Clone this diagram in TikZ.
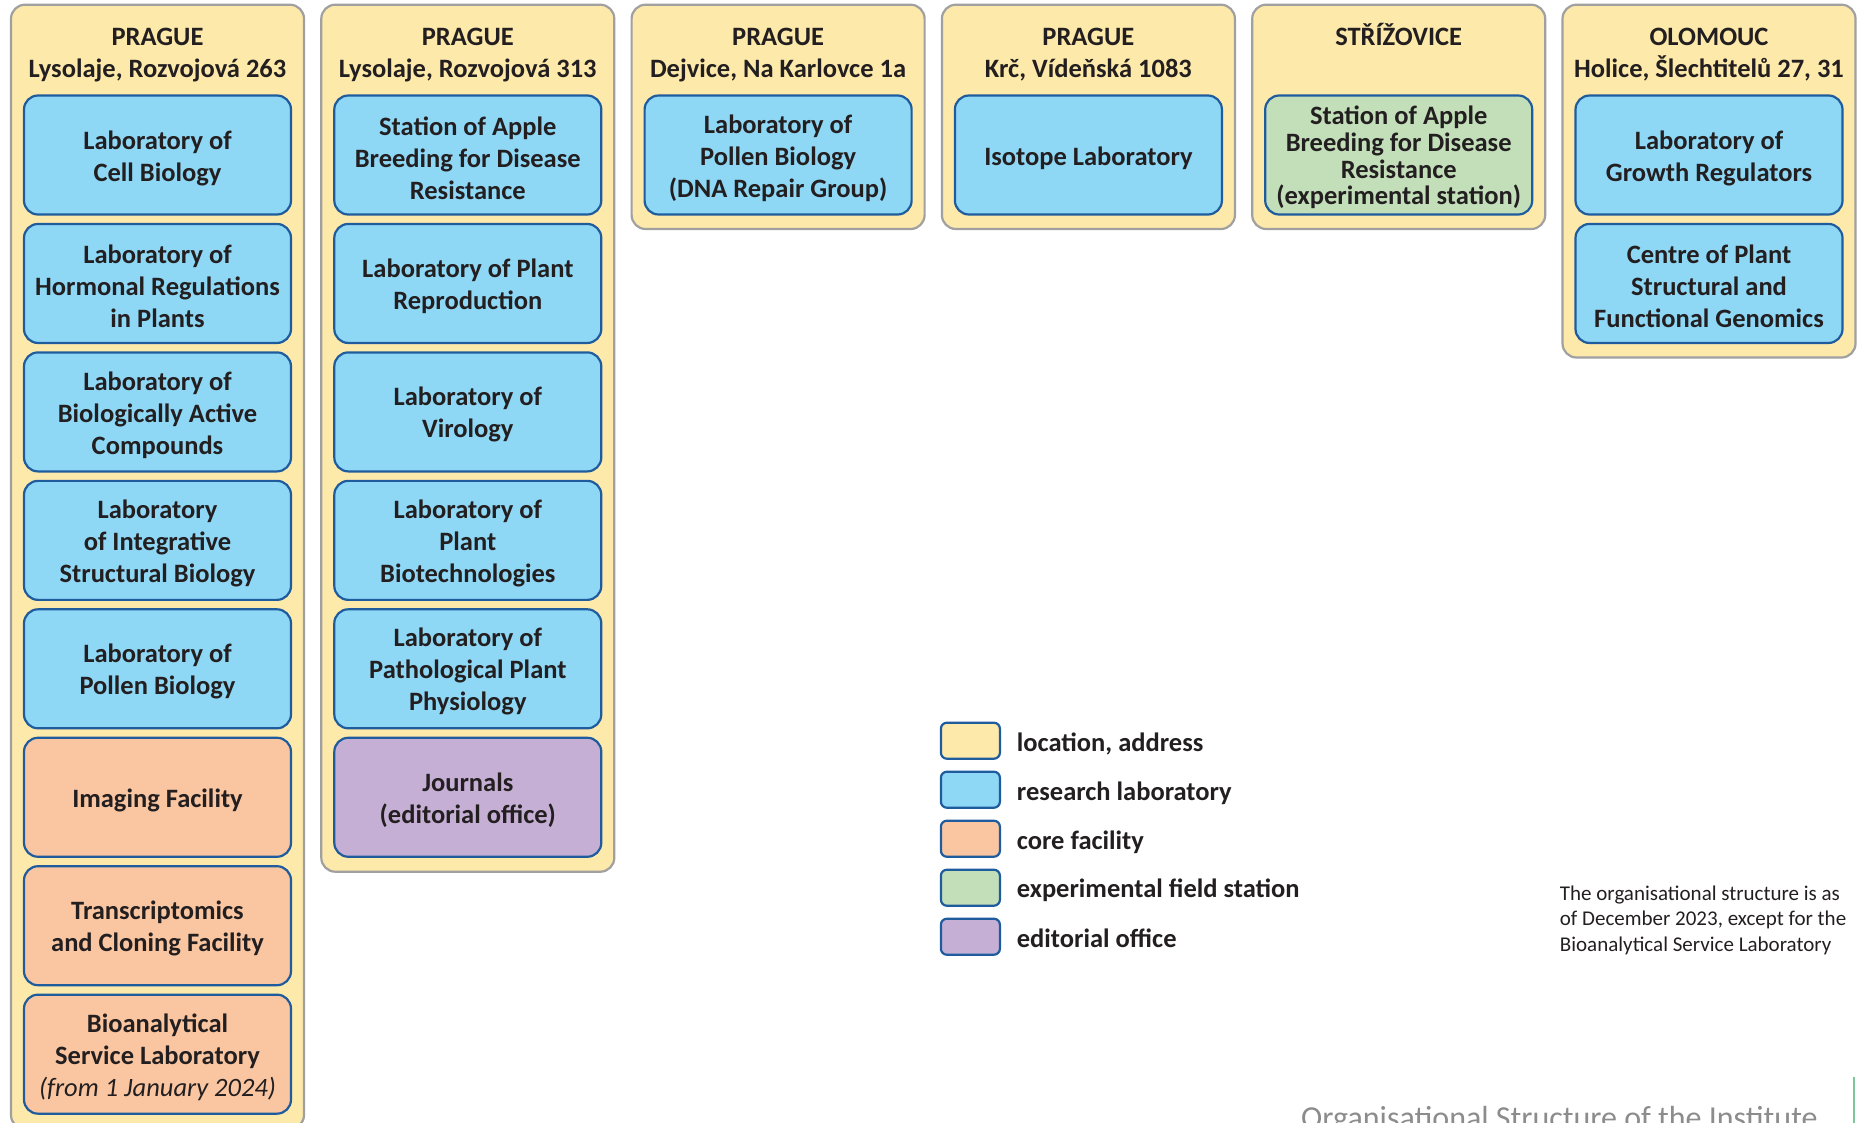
\documentclass[tikz,border=0pt]{standalone}
\usepackage{fontspec}
\setmainfont{Carlito}
\definecolor{locfill}{HTML}{FDE9AA}
\definecolor{locborder}{HTML}{A0A0A0}
\definecolor{labfill}{HTML}{8ED7F5}
\definecolor{boxborder}{HTML}{1F5C9E}
\definecolor{corefill}{HTML}{FAC6A1}
\definecolor{fieldfill}{HTML}{C3DFB9}
\definecolor{editfill}{HTML}{C6AFD5}
\definecolor{txt}{HTML}{231F20}
\definecolor{titlegrey}{HTML}{8C8C8C}
\definecolor{accentgreen}{HTML}{7CC896}
\tikzset{
  loc/.style={draw=locborder, fill=locfill, line width=2.2pt, rounded corners=14pt, minimum width=293pt, inner sep=0pt},
  unit/.style={draw=boxborder, fill=labfill, line width=2.2pt, rounded corners=14pt, minimum width=267pt, minimum height=119pt, inner sep=0pt},
  core/.style={unit, fill=corefill},
  field/.style={unit, fill=fieldfill},
  edit/.style={unit, fill=editfill},
  utext/.style={align=center, inner sep=0pt, text=txt, font=\bfseries\fontsize{26.5}{32}\selectfont},
  hdr/.style={align=center, text=txt, inner sep=0pt, font=\bfseries\fontsize{26.5}{32}\selectfont},
  legbox/.style={draw=boxborder, line width=2.2pt, rounded corners=6pt, minimum width=59pt, minimum height=36pt, inner sep=0pt},
  legtxt/.style={anchor=west, text=txt, inner sep=0pt, font=\bfseries\fontsize{26.5}{32}\selectfont},
}
\begin{document}
\begin{tikzpicture}[x=1pt,y=-1pt]
\useasboundingbox (0,0) rectangle (1857,1122);
\clip (0,0) rectangle (1857,1122);
% location boxes
\node[loc, minimum height=1124.3pt] (L1) at (157.5,566.85) {};
\node[loc, minimum height=867pt] (L2) at (467.8,438.2) {};
\node[loc, minimum height=224.3pt] (L3) at (778.1,116.85) {};
\node[loc, minimum height=224.3pt] (L4) at (1088.4,116.85) {};
\node[loc, minimum height=224.3pt] (L5) at (1398.7,116.85) {};
\node[loc, minimum height=352.8pt] (L6) at (1709,181.1) {};
% headers
\node[hdr] (H1) at (157.5,55) {PRAGUE\\Lysolaje, Rozvojová 263};
\node[hdr] (H2) at (467.8,55) {PRAGUE\\Lysolaje, Rozvojová 313};
\node[hdr] (H3) at (778.1,55) {PRAGUE\\Dejvice, Na Karlovce 1a};
\node[hdr] (H4) at (1088.4,55) {PRAGUE\\Krč, Vídeňská 1083};
\node[hdr] (H5) at (1398.7,34.3) {STŘÍŽOVICE};
\node[hdr] (H6) at (1709,55) {OLOMOUC\\Holice, Šlechtitelů 27, 31};
% column 1
\node[unit] (A1) at (157.5,155) {};
\node[unit] (A2) at (157.5,283.45) {};
\node[unit] (A3) at (157.5,411.9) {};
\node[unit] (A4) at (157.5,540.35) {};
\node[unit] (A5) at (157.5,668.8) {};
\node[core] (A6) at (157.5,797.25) {};
\node[core] (A7) at (157.5,925.7) {};
\node[core] (A8) at (157.5,1054.15) {};
\node[utext] (A1t) at ([yshift=-3pt]A1.center) {Laboratory of\\Cell Biology};
\node[utext] (A2t) at ([yshift=-3pt]A2.center) {Laboratory of\\Hormonal Regulations\\in Plants};
\node[utext] (A3t) at ([yshift=-3pt]A3.center) {Laboratory of\\Biologically Active\\Compounds};
\node[utext] (A4t) at ([yshift=-3pt]A4.center) {Laboratory\\of Integrative\\Structural Biology};
\node[utext] (A5t) at ([yshift=-3pt]A5.center) {Laboratory of\\Pollen Biology};
\node[utext] (A6t) at ([yshift=-3pt]A6.center) {Imaging Facility};
\node[utext] (A7t) at ([yshift=-3pt]A7.center) {Transcriptomics\\and Cloning Facility};
\node[utext] (A8t) at ([yshift=-3pt]A8.center) {Bioanalytical\\Service Laboratory\\{\mdseries\itshape (from 1 January 2024)}};
% column 2
\node[unit] (B1) at (467.8,155) {};
\node[unit] (B2) at (467.8,283.45) {};
\node[unit] (B3) at (467.8,411.9) {};
\node[unit] (B4) at (467.8,540.35) {};
\node[unit] (B5) at (467.8,668.8) {};
\node[edit] (B6) at (467.8,797.25) {};
\node[utext] (B1t) at ([yshift=-3pt]B1.center) {Station of Apple\\Breeding for Disease\\Resistance};
\node[utext] (B2t) at ([yshift=-3pt]B2.center) {Laboratory of Plant\\Reproduction};
\node[utext] (B3t) at ([yshift=-3pt]B3.center) {Laboratory of\\Virology};
\node[utext] (B4t) at ([yshift=-3pt]B4.center) {Laboratory of\\Plant\\Biotechnologies};
\node[utext] (B5t) at ([yshift=-3pt]B5.center) {Laboratory of\\Pathological Plant\\Physiology};
\node[utext] (B6t) at ([yshift=-3pt]B6.center) {Journals\\(editorial office)};
% column 3
\node[unit] (C1) at (778.1,155) {};
\node[utext] (C1t) at ([yshift=-3pt]C1.center) {Laboratory of\\Pollen Biology\\(DNA Repair Group)};
% column 4
\node[unit] (D1) at (1088.4,155) {};
\node[utext] (D1t) at ([yshift=-3pt]D1.center) {Isotope Laboratory};
% column 5
\node[field] (E1) at (1398.7,155) {};
\node[utext, font=\bfseries\fontsize{26.5}{26.8}\selectfont] (E1t) at ([yshift=-2.5pt]E1.center) {Station of Apple\\Breeding for Disease\\Resistance\\(experimental station)};
% column 6
\node[unit] (F1) at (1709,155) {};
\node[unit] (F2) at (1709,283.45) {};
\node[utext] (F1t) at ([yshift=-3pt]F1.center) {Laboratory of\\Growth Regulators};
\node[utext] (F2t) at ([yshift=-3pt]F2.center) {Centre of Plant\\Structural and\\Functional Genomics};
% legend
\node[legbox, fill=locfill] (K1) at (970.4,740.7) {};
\node[legbox, fill=labfill] (K2) at (970.4,789.7) {};
\node[legbox, fill=corefill] (K3) at (970.4,838.7) {};
\node[legbox, fill=fieldfill] (K4) at (970.4,887.7) {};
\node[legbox, fill=editfill] (K5) at (970.4,936.7) {};
\node[legtxt] (T1) at (1016.7,744.4) {location, address};
\node[legtxt] (T2) at (1016.7,793.4) {research laboratory};
\node[legtxt] (T3) at (1016.7,841.8) {core facility};
\node[legtxt] (T4) at (1016.7,890.4) {experimental field station};
\node[legtxt] (T5) at (1016.7,938.2) {editorial office};
% note
\node[anchor=west, align=left, inner sep=0pt, text=txt, font=\fontsize{21}{25.5}\selectfont] (N) at (1559.7,920) {The organisational structure is as\\of December 2023, except for the\\Bioanalytical Service Laboratory};
% footer
\node[anchor=base west, inner sep=0pt, text=titlegrey, font=\fontsize{32}{38}\selectfont] (FT) at (1301,1128) {Organisational Structure of the Institute};
\coordinate (G1) at (1853.5,1077);
\coordinate (G2) at (1853.5,1130);
\draw[accentgreen, line width=2pt] (G1) -- (G2);
\end{tikzpicture}
\end{document}
